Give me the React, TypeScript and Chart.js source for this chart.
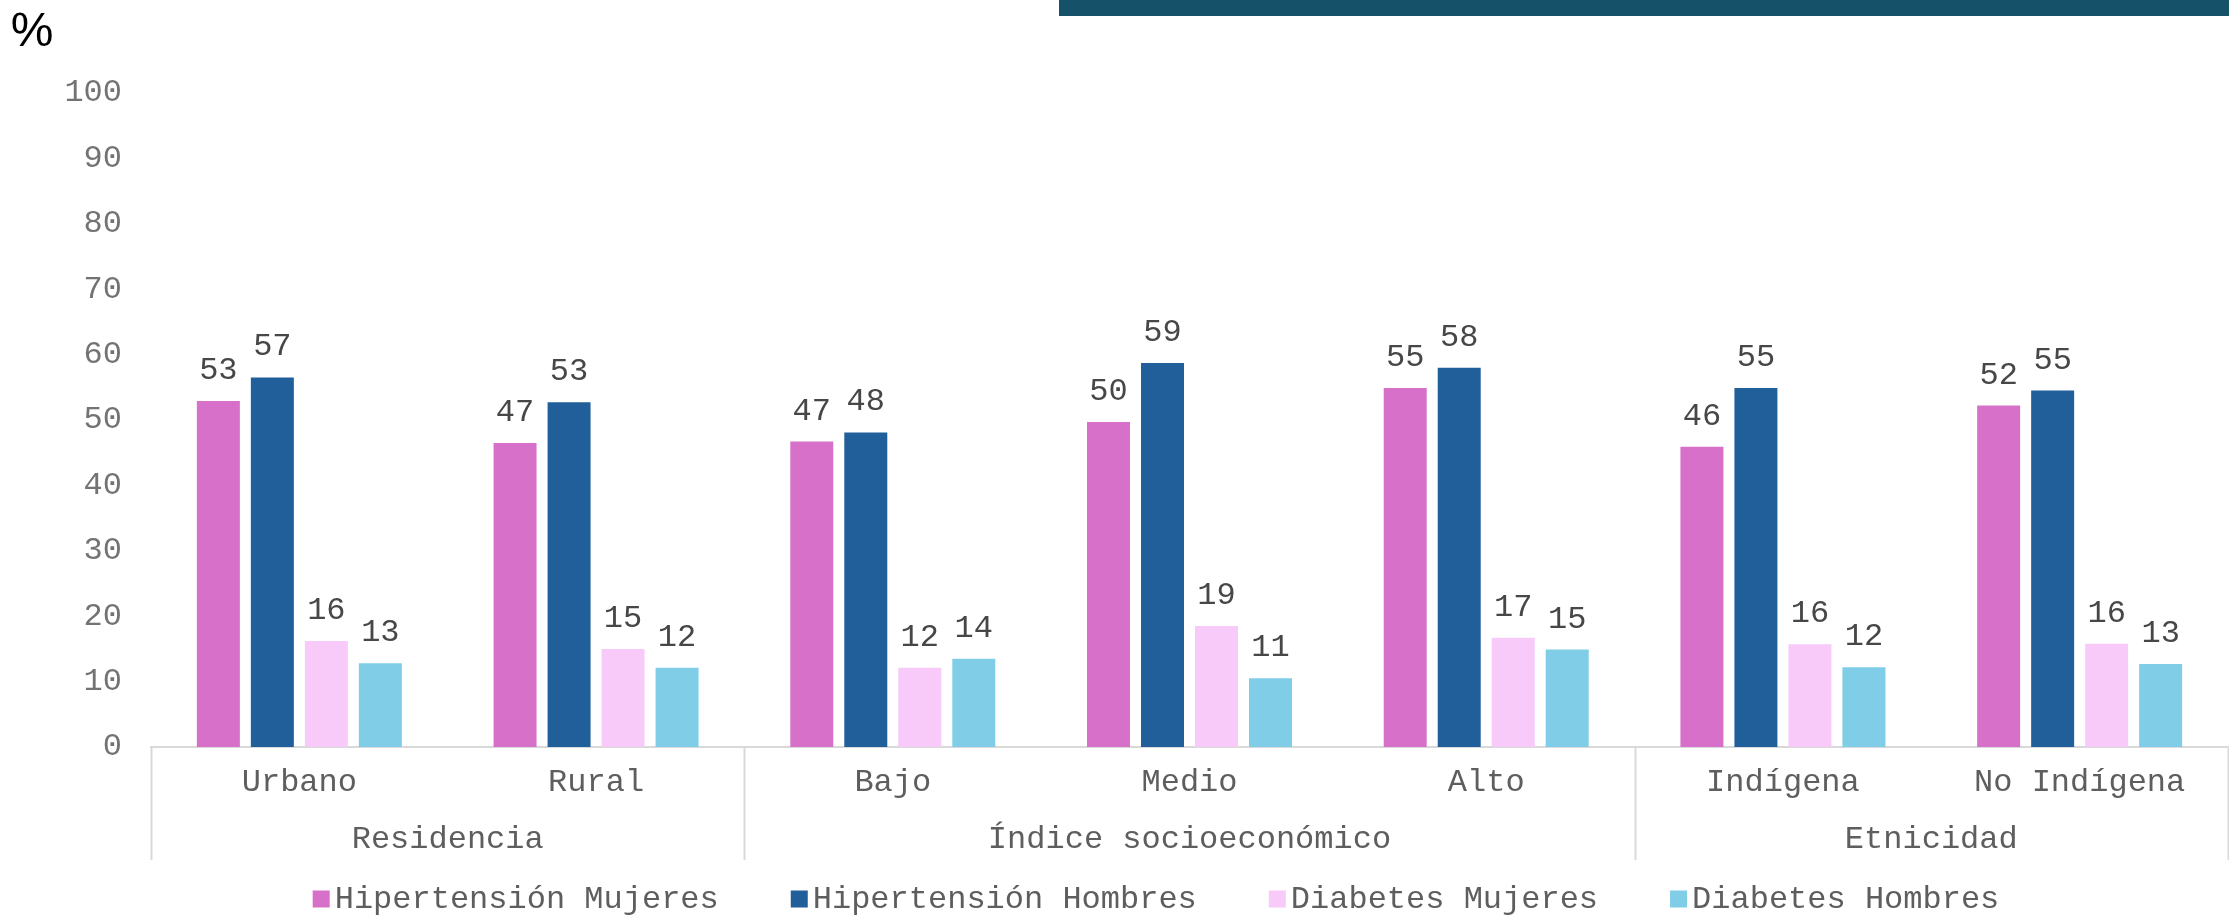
import React, { useEffect, useRef } from "react";
import { Chart, registerables } from "chart.js";

Chart.register(...registerables);

// ---- Data ----
const categories = ["Urbano", "Rural", "Bajo", "Medio", "Alto", "Indígena", "No Indígena"];
const groups = [
  { label: "Residencia", from: 0, to: 1 },
  { label: "Índice socioeconómico", from: 2, to: 4 },
  { label: "Etnicidad", from: 5, to: 6 },
];
const seriesNames = ["Hipertensión Mujeres", "Hipertensión Hombres", "Diabetes Mujeres", "Diabetes Hombres"];
const hipertensionMujeres = [52.9, 46.5, 46.7, 49.7, 54.9, 45.9, 52.2];
const hipertensionHombres = [56.5, 52.7, 48.1, 58.7, 58.0, 54.9, 54.5];
const diabetesMujeres = [16.2, 15.0, 12.1, 18.5, 16.7, 15.7, 15.8];
const diabetesHombres = [12.8, 12.1, 13.5, 10.5, 14.9, 12.2, 12.7];
const seriesColors = ["#D770C8", "#215F9A", "#F7CAF9", "#7FCDE7"];
const yTicks = [0, 10, 20, 30, 40, 50, 60, 70, 80, 90, 100];
const unitLabel = "%";

const MONO = "'Liberation Mono', 'Courier New', monospace";
const SANS = "'Liberation Sans', Arial, sans-serif";

const decorPlugin = {
  id: "decor",
  beforeDraw(chart: any) {
    const ctx = chart.ctx;
    ctx.save();
    // top banner bar
    ctx.fillStyle = "#15526A";
    ctx.fillRect(1059, 0, chart.width - 1059, 16);
    // unit label
    ctx.fillStyle = "#000000";
    ctx.font = `48px ${SANS}`;
    ctx.textAlign = "center";
    ctx.textBaseline = "middle";
    ctx.fillText(unitLabel, 32, 33);
    ctx.restore();
  },
  afterDraw(chart: any) {
    const ctx = chart.ctx;
    const xs = chart.scales.x;
    const area = chart.chartArea;
    ctx.save();
    // separators
    ctx.strokeStyle = "#D9D9D9";
    ctx.lineWidth = 2;
    const bounds: number[] = [];
    groups.forEach((g, gi) => {
      const left = g.from === 0 ? xs.left : (xs.getPixelForValue(g.from - 1) + xs.getPixelForValue(g.from)) / 2;
      const right = g.to === categories.length - 1 ? xs.right : (xs.getPixelForValue(g.to) + xs.getPixelForValue(g.to + 1)) / 2;
      if (gi === 0) bounds.push(left);
      bounds.push(right);
      ctx.fillStyle = "#5E5E5E";
      ctx.font = `32px ${MONO}`;
      ctx.textAlign = "center";
      ctx.textBaseline = "middle";
      ctx.fillText(g.label, (left + right) / 2, 840);
    });
    bounds.forEach((b) => {
      ctx.beginPath();
      ctx.moveTo(Math.round(b) + 0.5, area.bottom);
      ctx.lineTo(Math.round(b) + 0.5, 860);
      ctx.stroke();
    });
    // legend
    ctx.font = `32px ${MONO}`;
    const box = 17;
    const gapBox = 5;
    const gapItem = 72;
    const widths = seriesNames.map((n) => box + gapBox + ctx.measureText(n).width);
    const total = widths.reduce((a, b) => a + b, 0) + gapItem * (widths.length - 1);
    let x = 1156 - total / 2;
    const ly = 899;
    seriesNames.forEach((n, i) => {
      ctx.fillStyle = seriesColors[i];
      ctx.fillRect(x, ly - 8.5, box, box);
      ctx.fillStyle = "#5E5E5E";
      ctx.textAlign = "left";
      ctx.textBaseline = "middle";
      ctx.fillText(n, x + box + gapBox, ly + 1);
      x += widths[i] + gapItem;
    });
    ctx.restore();
  },
  afterDatasetsDraw(chart: any) {
    const ctx = chart.ctx;
    ctx.save();
    ctx.font = `32px ${MONO}`;
    ctx.fillStyle = "#474747";
    ctx.textAlign = "center";
    ctx.textBaseline = "alphabetic";
    chart.data.datasets.forEach((ds: any, di: number) => {
      const meta = chart.getDatasetMeta(di);
      meta.data.forEach((el: any, i: number) => {
        ctx.fillText(String(Math.round(ds.data[i])), el.x, el.y - 22);
      });
    });
    ctx.restore();
  },
};

export default function App() {
  const ref = useRef<HTMLCanvasElement | null>(null);
  useEffect(() => {
    document.body.style.margin = "0";
    const canvas = ref.current!;
    const chart = new Chart(canvas, {
      type: "bar",
      data: {
        labels: categories,
        datasets: [hipertensionMujeres, hipertensionHombres, diabetesMujeres, diabetesHombres].map((d, i) => ({
          label: seriesNames[i],
          data: d,
          backgroundColor: seriesColors[i],
          borderWidth: 0,
          categoryPercentage: 0.728,
          barPercentage: 0.796,
        })),
      },
      options: {
        responsive: false,
        animation: false,
        devicePixelRatio: 1,
        layout: { padding: { top: 93, right: 1, bottom: 0, left: 0 } },
        plugins: { legend: { display: false }, tooltip: { enabled: false } },
        scales: {
          x: {
            grid: { display: false, drawTicks: false },
            border: { display: true, color: "#D9D9D9", width: 2 },
            ticks: { font: { family: MONO, size: 32 }, color: "#5E5E5E", padding: 16, maxRotation: 0, autoSkip: false },
            afterFit: (s: any) => { s.height = 169; },
          },
          y: {
            min: 0,
            max: 100,
            afterBuildTicks: (s: any) => { s.ticks = yTicks.map((v) => ({ value: v })); },
            grid: { display: false, drawTicks: false },
            border: { display: false },
            ticks: { font: { family: MONO, size: 32 }, color: "#737373", padding: 29 },
            afterFit: (s: any) => { s.width = 151; },
          },
        },
      },
      plugins: [decorPlugin],
    });
    return () => chart.destroy();
  }, []);
  return (
    <div style={{ position: "absolute", left: 0, top: 0, width: 2229, height: 916 }}>
      <canvas ref={ref} width={2229} height={916} style={{ width: 2229, height: 916 }} />
    </div>
  );
}
